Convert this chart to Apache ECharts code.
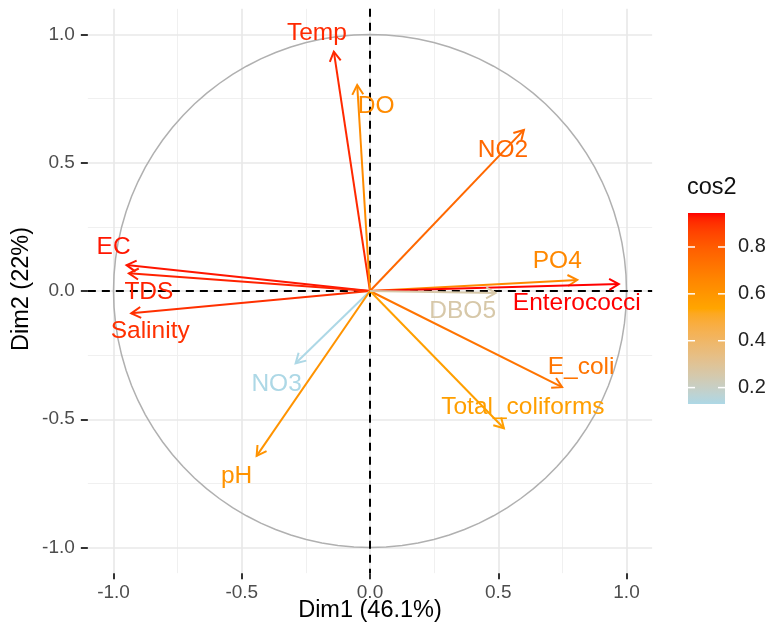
<!DOCTYPE html>
<html><head><meta charset="utf-8">
<script src="https://cdn.jsdelivr.net/npm/echarts@6/dist/echarts.min.js"></script>
<style>html,body{margin:0;padding:0;background:#fff;} #c{width:766px;height:628px;}</style>
</head><body><div id="c"></div>
<script>
// ---- data ----
const variables = ['Temp','DO','NO2','PO4','Enterococci','EC','TDS','Salinity','NO3','pH','E_coli','Total_coliforms','DBO5'];
const dim1 = [-0.141,-0.050,0.600,0.808,0.970,-0.949,-0.940,-0.931,-0.290,-0.442,0.749,0.522,0.490];
const dim2 = [0.933,0.803,0.628,0.043,0.027,0.101,0.069,-0.087,-0.282,-0.643,-0.375,-0.535,-0.008];
const cos2 = [0.91,0.64,0.76,0.65,0.945,0.93,0.92,0.90,0.13,0.61,0.72,0.56,0.26];
const xTicks = [-1,-0.5,0,0.5,1];
const yTicks = [-1,-0.5,0,0.5,1];
const minorGrid = [-0.75,-0.25,0.25,0.75];
const legendTicks = [0.2,0.4,0.6,0.8];
const xTitle = 'Dim1 (46.1%)';
const yTitle = 'Dim2 (22%)';
const legendTitle = 'cos2';
const gradientCols = ['#ADD8E6','#FFA500','#FF0000'];

// ---- layout (label offsets from arrow tips, px) ----
const labelOffsets = [[-17,-18],[19,21],[-21,20],[-20,-19],[-42,19],[-13,-18],[20,19],[19,18],[-19,21],[-20,20],[19,-20],[19,-21],[-33,18]];

// ---- Lab interpolation like ggplot's gradientn ----
function lin(c){c/=255;return c<=0.04045?c/12.92:Math.pow((c+0.055)/1.055,2.4);}
function delin(c){c=c<=0.0031308?12.92*c:1.055*Math.pow(c,1/2.4)-0.055;return Math.max(0,Math.min(255,Math.round(c*255)));}
function hex2rgb(h){return [parseInt(h.slice(1,3),16),parseInt(h.slice(3,5),16),parseInt(h.slice(5,7),16)];}
const WN=[0.95047,1,1.08883];
function rgb2lab(c){const r=lin(c[0]),g=lin(c[1]),b=lin(c[2]);
 const X=(0.4124564*r+0.3575761*g+0.1804375*b)/WN[0],Y=(0.2126729*r+0.7151522*g+0.0721750*b)/WN[1],Z=(0.0193339*r+0.1191920*g+0.9503041*b)/WN[2];
 const f=t=>t>0.008856?Math.cbrt(t):7.787*t+16/116;
 const fx=f(X),fy=f(Y),fz=f(Z);return [116*fy-16,500*(fx-fy),200*(fy-fz)];}
function lab2rgb(l){const fy=(l[0]+16)/116,fx=fy+l[1]/500,fz=fy-l[2]/200;
 const fi=t=>t*t*t>0.008856?t*t*t:(t-16/116)/7.787;
 const X=fi(fx)*WN[0],Y=fi(fy)*WN[1],Z=fi(fz)*WN[2];
 const r=3.2404542*X-1.5371385*Y-0.4985314*Z,g=-0.9692660*X+1.8760108*Y+0.0415560*Z,b=0.0556434*X-0.2040259*Y+1.0572252*Z;
 return 'rgb('+delin(r)+','+delin(g)+','+delin(b)+')';}
const labs=gradientCols.map(h=>rgb2lab(hex2rgb(h)));
const NST=40, stopColors=[];
for(let i=0;i<=NST;i++){const t=i/NST;const seg=Math.min(labs.length-2,Math.floor(t*(labs.length-1)));const u=t*(labs.length-1)-seg;
 const a=labs[seg],b=labs[seg+1];stopColors.push(lab2rgb([a[0]+(b[0]-a[0])*u,a[1]+(b[1]-a[1])*u,a[2]+(b[2]-a[2])*u]));}

const cMin=Math.min(...cos2), cMax=Math.max(...cos2);
const arrowData=variables.map((v,i)=>[dim1[i],dim2[i],cos2[i],i]);

const gridBox={left:87.85,top:8.85,width:564.3,height:564.3};
const FONT='"Liberation Sans", Arial, Helvetica, sans-serif';

function ml(data,color,width){
 return {silent:true,z:0,symbol:'none',animation:false,label:{show:false},
  lineStyle:{color:color,width:width,type:'solid'},data:data};
}

// legend graphics
const bar={x:688,y:213,w:37,h:191};
const legendEls=[
 {type:'rect',shape:{x:bar.x,y:bar.y,width:bar.w,height:bar.h},style:{fill:{type:'linear',x:0,y:1,x2:0,y2:0,
   colorStops:stopColors.map((c,i)=>({offset:i/NST,color:c}))}}},
 {type:'text',x:bar.x-1,y:188,style:{text:legendTitle,font:'23.5px '+FONT,fill:'#111',align:'left',verticalAlign:'middle'}}
];
legendTicks.forEach(v=>{const yy=bar.y+bar.h-(v-cMin)/(cMax-cMin)*bar.h;
 legendEls.push({type:'line',shape:{x1:bar.x,y1:yy,x2:bar.x+7,y2:yy},style:{stroke:'#fff',lineWidth:1.5}});
 legendEls.push({type:'line',shape:{x1:bar.x+bar.w-7,y1:yy,x2:bar.x+bar.w,y2:yy},style:{stroke:'#fff',lineWidth:1.5}});
 legendEls.push({type:'text',x:738,y:yy,style:{text:v.toFixed(1),font:'20px '+FONT,fill:'#222',align:'left',verticalAlign:'middle'}});
});

const chart=echarts.init(document.getElementById('c'),null,{renderer:'canvas'});
chart.setOption({
 animation:false,
 backgroundColor:'#fff',
 grid:gridBox,
 xAxis:{type:'value',min:-1.1,max:1.1,axisLine:{show:false,onZero:false},splitLine:{show:false},
  axisTick:{show:true,customValues:xTicks,length:6,lineStyle:{color:'#333',width:2}},
  axisLabel:{customValues:xTicks,fontSize:19,fontFamily:FONT,color:'#4d4d4d',margin:10,formatter:v=>v.toFixed(1)}},
 yAxis:{type:'value',min:-1.1,max:1.1,axisLine:{show:false,onZero:false},splitLine:{show:false},
  axisTick:{show:true,customValues:yTicks,length:7,lineStyle:{color:'#333',width:2}},
  axisLabel:{customValues:yTicks,fontSize:19,fontFamily:FONT,color:'#4d4d4d',margin:13,formatter:v=>v.toFixed(1)}},
 visualMap:{type:'continuous',show:false,dimension:2,seriesIndex:[2,3],min:cMin,max:cMax,inRange:{color:stopColors}},
 graphic:[
  {type:'text',x:370,y:611,style:{text:xTitle,font:'23.5px '+FONT,fill:'#000',align:'center',verticalAlign:'middle'}},
  {type:'text',x:22,y:289,rotation:Math.PI/2,style:{text:yTitle,font:'23.5px '+FONT,fill:'#000',align:'center',verticalAlign:'middle'}}
 ].concat(legendEls),
 series:[
  {type:'line',data:[],z:0,markLine:ml(minorGrid.map(v=>({xAxis:v})).concat(minorGrid.map(v=>({yAxis:v}))),'#f0f0f0',1)},
  {type:'custom',z:2,data:[[0,0]],silent:true,
   markLine:ml(xTicks.map(v=>({xAxis:v})).concat(yTicks.map(v=>({yAxis:v}))),'#e8e8e8',1.6),
   renderItem:function(p,api){
    const pts=[];for(let k=0;k<=100;k++){const a=2*Math.PI*k/100;pts.push(api.coord([Math.cos(a),Math.sin(a)]));}
    const ls=[];
    ls.push({type:'polyline',shape:{points:pts},style:{stroke:'#b0b0b0',lineWidth:1.5,fill:null}});
    const o=api.coord([0,0]);
    ls.push({type:'line',shape:{x1:gridBox.left,y1:o[1],x2:gridBox.left+gridBox.width,y2:o[1]},style:{stroke:'#000',lineWidth:2,lineDash:[8,6]}});
    ls.push({type:'line',shape:{x1:o[0],y1:gridBox.top,x2:o[0],y2:gridBox.top+gridBox.height},style:{stroke:'#000',lineWidth:2,lineDash:[8,6]}});
    return {type:'group',children:ls};
  }},
  {type:'custom',z:3,data:arrowData,encode:{x:0,y:1},silent:true,renderItem:function(p,api){
    const o=api.coord([0,0]),t=api.coord([api.value(0),api.value(1)]);
    const color=api.visual('color');
    const ang=Math.atan2(t[1]-o[1],t[0]-o[0]),L=11,a=Math.PI/6;
    const p1=[t[0]-L*Math.cos(ang-a),t[1]-L*Math.sin(ang-a)],p2=[t[0]-L*Math.cos(ang+a),t[1]-L*Math.sin(ang+a)];
    return {type:'group',children:[
     {type:'line',shape:{x1:o[0],y1:o[1],x2:t[0],y2:t[1]},style:{stroke:color,lineWidth:2}},
     {type:'polyline',shape:{points:[p1,t,p2]},style:{stroke:color,lineWidth:2,fill:null}}]};
  }},
  {type:'custom',z:4,data:arrowData,encode:{x:0,y:1},silent:true,renderItem:function(p,api){
    const t=api.coord([api.value(0),api.value(1)]);const i=api.value(3);
    return {type:'text',x:t[0]+labelOffsets[i][0],y:t[1]+labelOffsets[i][1],
     style:{text:variables[i],font:'24.5px '+FONT,fill:api.visual('color'),align:'center',verticalAlign:'middle'}};
  }}
 ]
});
</script></body></html>
